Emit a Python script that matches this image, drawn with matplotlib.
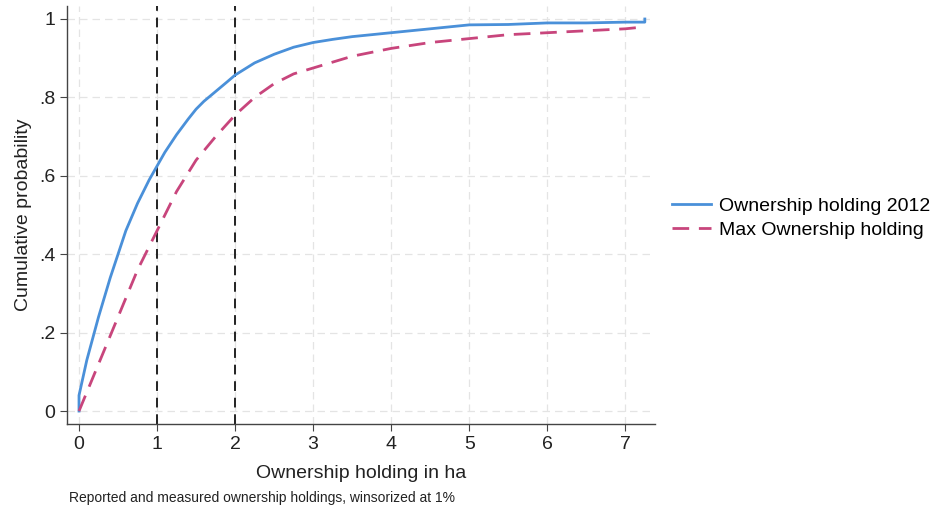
import matplotlib
matplotlib.use("Agg")
import matplotlib.pyplot as plt

plt.rcParams['font.family'] = ['Liberation Sans', 'DejaVu Sans']

own_x = [0.0, 0.0, 0.1, 0.25, 0.4, 0.5, 0.6, 0.75, 0.9, 1.0, 1.1, 1.25, 1.4, 1.5, 1.6, 1.75, 1.9, 2.0,
         2.25, 2.5, 2.75, 3.0, 3.25, 3.5, 4.0, 4.5, 5.0, 5.5, 6.0, 6.5, 7.0, 7.25, 7.25]
own_y = [0.0, 0.04, 0.13, 0.24, 0.34, 0.40, 0.46, 0.53, 0.59, 0.625, 0.66, 0.705, 0.745, 0.77, 0.79, 0.815, 0.84, 0.857,
         0.888, 0.91, 0.928, 0.94, 0.948, 0.955, 0.965, 0.975, 0.985, 0.986, 0.99, 0.99, 0.992, 0.992, 1.0]

# Max ownership holding
max_x = [0.0, 0.25, 0.5, 0.75, 1.0, 1.25, 1.5, 1.75, 2.0, 2.25, 2.5, 2.75, 3.0, 3.5, 4.0,
         4.5, 5.0, 5.5, 6.0, 6.5, 7.0, 7.25]
max_y = [0.0, 0.12, 0.24, 0.36, 0.46, 0.56, 0.64, 0.70, 0.755, 0.80, 0.835, 0.86, 0.875, 0.905, 0.925,
         0.94, 0.95, 0.96, 0.965, 0.97, 0.975, 0.98]

ref_lines = [1, 2]
xticks = [0, 1, 2, 3, 4, 5, 6, 7]
yticks = [0, 0.2, 0.4, 0.6, 0.8, 1.0]
ytick_labels = ['0', '.2', '.4', '.6', '.8', '1']

fig = plt.figure(figsize=(9.37, 5.05), dpi=100)
ax = fig.add_axes([0.0715, 0.1604, 0.6275, 0.8276])

ax.plot(own_x, own_y, color='#4a90d9', lw=2.0, label='Ownership holding 2012', zorder=3)
ax.plot(max_x, max_y, color='#c8457c', lw=2.0, ls=(0, (6, 3.5)), label='Max Ownership holding', zorder=3)
for v in ref_lines:
    ax.axvline(v, color='#222222', lw=1.4, ls=(0, (5, 3.5)), zorder=2)

ax.set_xlim(-0.154, 7.38)
ax.set_ylim(-0.033, 1.033)
ax.set_xticks(xticks)
ax.set_yticks(yticks)
ax.set_yticklabels(ytick_labels)
ax.grid(True, color='#e4e4e4', lw=0.9, ls=(0, (6, 4)))
ax.set_axisbelow(True)
for s in ['top', 'right']:
    ax.spines[s].set_visible(False)
for s in ['left', 'bottom']:
    ax.spines[s].set_color('#444444')
    ax.spines[s].set_linewidth(1.0)
ax.tick_params(axis='both', labelsize=14, length=5, color='#444444', labelcolor='#222222')

ax.set_xlabel('Ownership holding in ha', fontsize=14, color='#222222', labelpad=9)
ax.set_ylabel('Cumulative probability', fontsize=14, color='#222222', labelpad=5)

fig.legend(loc='center left', bbox_to_anchor=(0.717, 0.568), frameon=False, fontsize=14,
           handlelength=2.0, handletextpad=0.45, labelspacing=0.3, borderaxespad=0, borderpad=0)

fig.text(0.0735, 0.006, 'Reported and measured ownership holdings, winsorized at 1%', fontsize=10, color='#222222')

fig.savefig('out.png', dpi=100)
